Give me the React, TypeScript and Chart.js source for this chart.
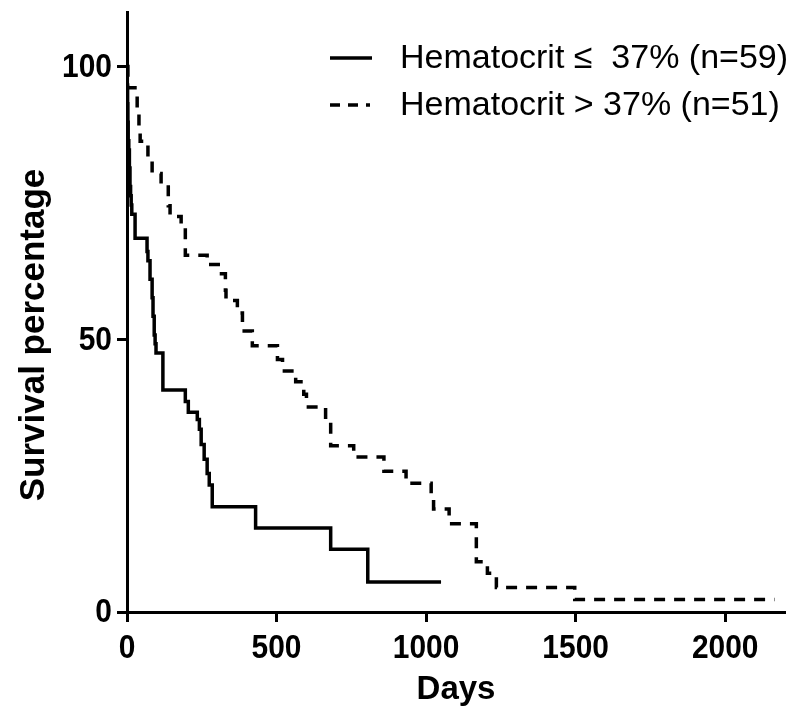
import React, { useEffect, useRef } from 'react';
import { Chart, registerables } from 'chart.js';

Chart.register(...registerables);

// Kaplan–Meier steps: day of event, survival % after that event
const lowHctDays = [0, 1, 2, 3, 4, 6, 8, 10, 12, 14, 16, 27, 67, 70, 77, 84, 87, 91, 94, 97, 120, 195, 205, 235, 242, 248, 258, 268, 275, 285, 430, 681, 805, 1050];
const lowHctPct = [100, 96.6, 93.2, 89.8, 86.4, 84.7, 81.4, 78.0, 76.3, 74.6, 72.9, 68.5, 66.1, 64.4, 61.0, 57.6, 54.2, 50.8, 49.2, 47.5, 40.7, 38.6, 36.6, 35.3, 33.5, 30.7, 28.0, 25.4, 23.3, 19.3, 15.4, 11.5, 5.5, 5.5];

const highHctDays = [0, 3, 34, 40, 44, 70, 84, 114, 138, 144, 181, 195, 268, 305, 329, 331, 369, 386, 419, 503, 520, 564, 591, 600, 664, 681, 758, 859, 933, 1017, 1025, 1077, 1168, 1205, 1235, 1497, 2165];
const highHctPct = [100, 96.1, 92.2, 88.2, 86.3, 83.3, 80.4, 78.4, 74.5, 72.5, 70.6, 65.4, 63.7, 62.0, 59.0, 57.1, 54.8, 51.5, 48.8, 46.3, 44.2, 42.2, 39.9, 37.6, 35.0, 30.5, 28.4, 25.8, 23.6, 21.2, 18.9, 16.2, 9.2, 7.1, 4.5, 2.3, 2.3];

const xTickValues = [0, 500, 1000, 1500, 2000];
const yTickValues = [0, 50, 100];
const seriesLabels = ['Hematocrit \u2264  37% (n=59)', 'Hematocrit > 37% (n=51)'];
const xTitle = 'Days';
const yTitle = 'Survival percentage';

const FONT = '"Liberation Sans", Arial, Helvetica, sans-serif';

const overlayPlugin = {
  id: 'overlay',
  afterDraw(chart: any) {
    const ctx = chart.ctx as CanvasRenderingContext2D;
    const { left, right, bottom } = chart.chartArea;
    const xs = chart.scales.x;
    const ys = chart.scales.y;
    ctx.save();
    ctx.fillStyle = '#000';
    ctx.strokeStyle = '#000';

    // tick labels (slightly condensed, as in the reference)
    ctx.font = `bold 34px ${FONT}`;
    ctx.textBaseline = 'middle';
    ctx.textAlign = 'center';
    xTickValues.forEach((v) => {
      ctx.save();
      ctx.translate(xs.getPixelForValue(v), bottom + 37);
      ctx.scale(0.88, 1);
      ctx.fillText(String(v), 0, 0);
      ctx.restore();
    });
    ctx.textAlign = 'right';
    yTickValues.forEach((v) => {
      ctx.save();
      ctx.translate(left - 15, ys.getPixelForValue(v) + 1);
      ctx.scale(0.88, 1);
      ctx.fillText(String(v), 0, 0);
      ctx.restore();
    });

    // axis titles
    ctx.font = `bold 33px ${FONT}`;
    ctx.textAlign = 'center';
    ctx.fillText(xTitle, (left + right) / 2, 690);
    ctx.save();
    ctx.font = `bold 35px ${FONT}`;
    ctx.translate(34, 335);
    ctx.rotate(-Math.PI / 2);
    ctx.fillText(yTitle, 0, 0);
    ctx.restore();

    // legend
    ctx.lineWidth = 3.5;
    ctx.lineCap = 'butt';
    ctx.beginPath();
    ctx.setLineDash([]);
    ctx.moveTo(330, 58);
    ctx.lineTo(372, 58);
    ctx.stroke();
    ctx.beginPath();
    ctx.setLineDash([10, 8]);
    ctx.moveTo(330, 105);
    ctx.lineTo(370, 105);
    ctx.stroke();
    ctx.setLineDash([]);
    ctx.font = `34px ${FONT}`;
    ctx.textAlign = 'left';
    ctx.fillText(seriesLabels[0], 400, 59);
    ctx.fillText(seriesLabels[1], 400, 106);
    ctx.restore();
  },
};

export default function App() {
  const ref = useRef<HTMLCanvasElement>(null);

  useEffect(() => {
    if (!ref.current) return;
    const chart = new Chart(ref.current, {
      type: 'line',
      data: {
        datasets: [
          {
            label: seriesLabels[0],
            data: lowHctDays.map((d, i) => ({ x: d, y: lowHctPct[i] })),
            borderColor: '#000',
            borderWidth: 3.5,
            pointRadius: 0,
            stepped: true,
            fill: false,
          },
          {
            label: seriesLabels[1],
            data: highHctDays.map((d, i) => ({ x: d, y: highHctPct[i] })),
            borderColor: '#000',
            borderWidth: 3.5,
            borderDash: [11, 9],
            pointRadius: 0,
            stepped: true,
            fill: false,
          },
        ],
      },
      options: {
        animation: false,
        responsive: false,
        maintainAspectRatio: false,
        layout: { padding: { left: 0, right: 15, top: 12, bottom: 0 } },
        plugins: { legend: { display: false }, tooltip: { enabled: false } },
        scales: {
          x: {
            type: 'linear',
            min: 0,
            max: 2200,
            afterBuildTicks: (s: any) => {
              s.ticks = xTickValues.map((v) => ({ value: v }));
            },
            afterFit: (s: any) => {
              s.height = 113;
              s.paddingLeft = 0;
              s.paddingRight = 0;
            },
            grid: { display: true, drawOnChartArea: false, drawTicks: true, tickLength: 10, tickWidth: 3, tickColor: '#000' },
            border: { display: true, color: '#000', width: 3 },
            ticks: { display: false, autoSkip: false },
          },
          y: {
            type: 'linear',
            min: 0,
            max: 110,
            afterBuildTicks: (s: any) => {
              s.ticks = yTickValues.map((v) => ({ value: v }));
            },
            afterFit: (s: any) => {
              s.width = 127;
              s.paddingTop = 0;
              s.paddingBottom = 0;
            },
            grid: { display: true, drawOnChartArea: false, drawTicks: true, tickLength: 10, tickWidth: 3, tickColor: '#000' },
            border: { display: true, color: '#000', width: 3 },
            ticks: { display: false, autoSkip: false },
          },
        },
      },
      plugins: [overlayPlugin],
    });
    return () => chart.destroy();
  }, []);

  return (
    <div style={{ position: 'fixed', left: 0, top: 0, width: 800, height: 725, background: '#fff' }}>
      <canvas ref={ref} width={800} height={725} style={{ width: 800, height: 725, display: 'block' }} />
    </div>
  );
}
